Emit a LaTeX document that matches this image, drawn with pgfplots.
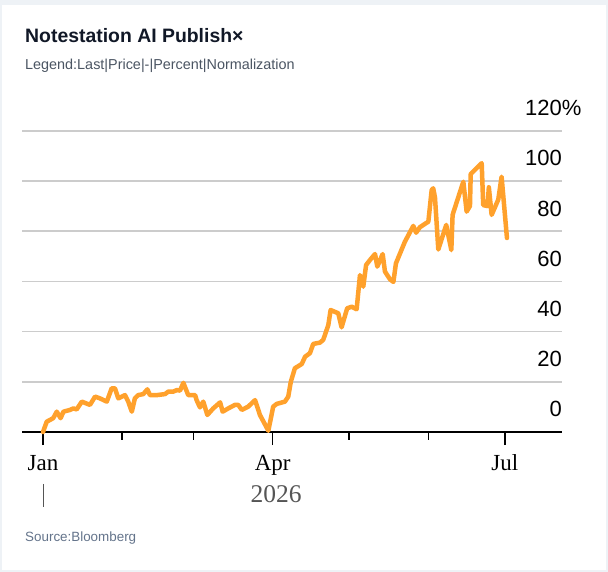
\documentclass[border=0pt]{standalone}
\usepackage{pgfplots}
\pgfplotsset{compat=1.18}
\usepackage{fontspec}
\setmainfont{Liberation Sans}
\newfontfamily\serifface{Liberation Serif}

\definecolor{framegray}{HTML}{EEF2F6}
\definecolor{titlenavy}{HTML}{111827}
\definecolor{subgray}{HTML}{4B5563}
\definecolor{srcgray}{HTML}{64748B}
\definecolor{gridgray}{HTML}{CCCCCC}
\definecolor{yeargray}{HTML}{555555}
\definecolor{lineorange}{HTML}{FFA12C}

% Normalised last price (percent change since 1 Jan 2026), x = day of year
\pgfplotstableread{
day   pct
0     0.0
1.45  4.1
4.0   5.5
5.4   8.1
6.9   5.5
8.0   8.1
10.6  8.8
11.9  9.4
13.2  9.0
15.2  12.1
18.4  10.8
20.4  14.1
22.3  13.4
25.0  12.1
26.9  17.4
28.2  17.4
29.5  13.4
32.1  14.7
33.4  12.1
34.8  8.1
36.0  13.4
37.3  14.7
39.3  15.1
40.9  17.0
41.9  14.7
44.6  14.7
47.8  15.1
49.1  16.1
51.1  16.1
52.4  16.7
53.7  16.5
55.0  19.6
56.9  14.7
59.6  14.7
60.2  12.7
61.5  9.8
62.8  12.1
64.4  6.8
66.7  9.4
69.4  11.8
70.4  8.1
72.6  9.4
75.2  10.8
76.5  10.8
77.9  8.8
80.4  10.1
83.1  12.7
85.0  6.8
88.3  0.5
90.2  10.1
91.6  11.2
94.8  12.1
96.1  14.1
97.1  20.0
98.7  25.4
101.4 27.1
102.7 30.0
104.6 31.4
105.9 35.1
108.5 35.6
109.8 36.7
111.8 42.6
112.7 48.6
115.7 47.3
117.0 41.7
119.2 49.3
121.0 49.9
122.9 48.9
124.2 62.5
125.5 57.9
126.6 66.5
128.1 68.5
130.1 70.9
131.0 65.9
133.1 70.9
134.0 63.9
136.0 60.8
137.3 59.8
138.3 67.2
141.8 75.8
145.1 82.1
146.2 79.4
147.7 81.6
151.0 83.8
152.3 96.4
152.9 97.1
153.6 93.4
154.9 72.7
158.0 82.5
160.0 72.5
160.5 86.5
164.7 99.7
166.0 87.8
167.3 90.0
167.6 102.8
171.9 107.1
172.5 90.4
174.2 90.0
174.7 97.5
175.8 86.5
178.4 92.6
179.7 101.7
181.8 77.3
}\pricedata

\begin{document}
\begin{tikzpicture}
% card and frame
\fill[framegray] (0bp,0bp) rectangle (608bp,572bp);
\fill[white] (2bp,2bp) rectangle (606bp,567bp);

% heading
\node[anchor=base west, inner sep=0pt, text=titlenavy,
      font=\fontsize{19.4bp}{22bp}\selectfont\bfseries] at (25bp,529.3bp) {Notestation AI Publish×};
\node[anchor=base west, inner sep=0pt, text=subgray,
      font=\fontsize{14.4bp}{16bp}\selectfont] at (25bp,502bp) {Legend:Last|Price|-|Percent|Normalization};

\begin{axis}[
  at={(22bp,140bp)}, anchor=south west,
  scale only axis, width=540bp, height=301.2bp,
  xmin=-8.23, xmax=203.37, ymin=0, ymax=120,
  clip=false,
  axis x line*=bottom,
  axis y line*=right,
  y axis line style={draw=none},
  x axis line style={black, line width=1.6bp, -},
  tick align=outside,
  xtick={0,90,181},
  xticklabels={Jan,Apr,Jul},
  minor xtick={31,59,120,151},
  major tick length=13bp,
  minor tick length=8bp,
  xtick style={black, line width=1.5bp},
  minor tick style={black, line width=1.5bp},
  ytick={0,20,40,60,80,100,120},
  yticklabels={0,20,40,60,80,100,120\rlap{\%}},
  ytick style={draw=none},
  ymajorgrids,
  grid style={gridgray, line width=1.5bp},
  xticklabel style={font=\serifface\fontsize{23bp}{26bp}\selectfont, text=black, anchor=base, inner sep=0pt, yshift=-25.7bp},
  yticklabel style={font=\fontsize{22bp}{26bp}\selectfont, text=black, anchor=base east, inner sep=0pt, xshift=-13bp, yshift=15bp},
]
\addplot[lineorange, line width=4.5bp, line join=round, line cap=round] table[x=day, y=pct] {\pricedata};
\end{axis}

% year caption under the month labels
\draw[yeargray, line width=1.3bp] (43.8bp,88bp) -- (43.8bp,65bp);
\node[anchor=base, inner sep=0pt, text=yeargray,
      font=\serifface\fontsize{25.5bp}{28bp}\selectfont] at (276bp,69.3bp) {2026};

% source line
\node[anchor=base west, inner sep=0pt, text=srcgray,
      font=\fontsize{13.4bp}{15bp}\selectfont] at (25bp,31bp) {Source:Bloomberg};
\end{tikzpicture}
\end{document}
